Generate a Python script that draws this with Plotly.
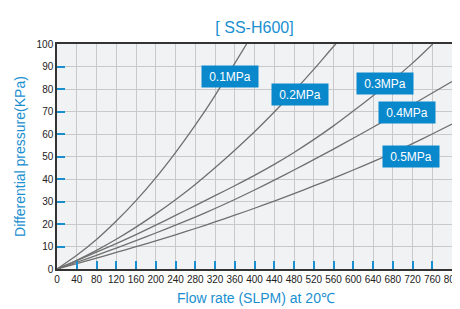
import plotly.graph_objects as go

# Flow rate (SLPM) sample points
flow_01 = [0, 40, 80, 120, 160, 200, 240, 280, 320, 360, 384]
dp_01 = [0, 6.1, 13.1, 21.3, 30.4, 40.5, 51.7, 63.9, 77.1, 91.4, 100]

flow_02 = [0, 40, 80, 120, 160, 200, 240, 280, 320, 360, 400, 440, 480, 520, 560, 565]
dp_02 = [0, 3.9, 8.3, 13.2, 18.6, 24.5, 30.8, 37.6, 45.0, 52.8, 61.0, 69.8, 79.0, 88.7, 98.9, 100]

flow_03 = [0, 40, 80, 120, 160, 200, 240, 280, 320, 360, 400, 440, 480, 520, 560, 600, 640, 680, 720, 761]
dp_03 = [0, 3.7, 7.5, 11.3, 15.3, 19.5, 23.8, 28.2, 32.6, 37.0, 41.6, 46.5, 51.8, 57.5, 63.6, 70.2, 77.0, 84.0, 91.5, 100]

flow_04 = [0, 40, 80, 120, 160, 200, 240, 280, 320, 360, 400, 440, 480, 520, 560, 600, 640, 680, 720, 760, 800]
dp_04 = [0, 3.0, 6.1, 9.3, 12.6, 16.0, 19.5, 23.1, 26.9, 30.9, 35.1, 39.5, 44.0, 48.6, 53.3, 58.1, 63.0, 68.0, 73.1, 78.2, 83.3]

flow_05 = [0, 40, 80, 120, 160, 200, 240, 280, 320, 360, 400, 440, 480, 520, 560, 600, 640, 680, 720, 760, 800]
dp_05 = [0, 2.4, 4.85, 7.35, 9.9, 12.5, 15.2, 18.0, 20.9, 23.9, 27.0, 30.2, 33.5, 36.9, 40.4, 44.0, 47.7, 51.6, 55.7, 60.0, 64.4]

series_names = ["0.1MPa", "0.2MPa", "0.3MPa", "0.4MPa", "0.5MPa"]
label_x = [351, 492, 664, 709, 717]
label_y = [85.4, 77.5, 82.3, 69.4, 50.2]

x_ticks = list(range(0, 801, 40))
y_ticks = list(range(0, 101, 10))

BLUE = "#1a8fd0"
BOX = "#0a88cc"
LINE = "#6f6f6f"
FONT = "Liberation Sans, Arial, sans-serif"

fig = go.Figure()
for fx, dy, nm in zip([flow_01, flow_02, flow_03, flow_04, flow_05],
                      [dp_01, dp_02, dp_03, dp_04, dp_05], series_names):
    fig.add_trace(go.Scatter(x=fx, y=dy, mode="lines", name=nm,
                             line=dict(color=LINE, width=1.3, shape="spline", smoothing=0.8),
                             hoverinfo="x+y+name"))

for nm, lx, ly in zip(series_names, label_x, label_y):
    fig.add_annotation(x=lx, y=ly, text=nm, showarrow=False,
                       font=dict(family=FONT, size=12, color="white"),
                       bgcolor=BOX, width=52, height=17, borderpad=2, align="center")

# axis titles as annotations (positioned in paper units)
fig.add_annotation(xref="paper", yref="paper", x=0.505, y=-0.127, yanchor="middle",
                   text="Flow rate (SLPM) at 20℃", showarrow=False,
                   font=dict(family=FONT, size=14, color=BLUE))
fig.add_annotation(xref="paper", yref="paper", x=-0.095, y=0.5, xanchor="center",
                   text="Differential pressure(KPa)", showarrow=False, textangle=-90,
                   font=dict(family=FONT, size=14, color=BLUE))

tickfont = dict(family=FONT, size=10, color="#222")

# the page body has an 8px margin, so the figure is sized/placed to compensate
fig.update_layout(
    width=452, height=301,
    margin=dict(l=49, r=8, t=36, b=40, autoexpand=False),
    paper_bgcolor="white", plot_bgcolor="#f1f2f3",
    showlegend=False,
    title=dict(text="[ SS-H600]", x=0.5, xref="paper", xanchor="center",
               y=1 - 19.5 / 301, yref="container", yanchor="middle",
               font=dict(family=FONT, size=16, color=BLUE)),
    xaxis=dict(range=[0, 800], tickvals=x_ticks, ticktext=[str(v) for v in x_ticks],
               tickangle=0, automargin=False, ticklabeloverflow="allow",
               showgrid=True, gridcolor="#c9c9c9", gridwidth=1,
               ticks="inside", ticklen=8, tickwidth=1.5, tickcolor=BLUE,
               showline=True, linecolor="#333", linewidth=1.5, mirror=True,
               tickfont=tickfont, zeroline=False),
    yaxis=dict(range=[0, 100], tickvals=y_ticks, ticktext=[str(v) for v in y_ticks],
               automargin=False, ticklabeloverflow="allow",
               showgrid=True, gridcolor="#c9c9c9", gridwidth=1,
               ticks="inside", ticklen=8, tickwidth=1.5, tickcolor=BLUE,
               showline=True, linecolor="#333", linewidth=1.5, mirror=True,
               tickfont=tickfont, zeroline=False),
)

fig.write_html("out.html")
